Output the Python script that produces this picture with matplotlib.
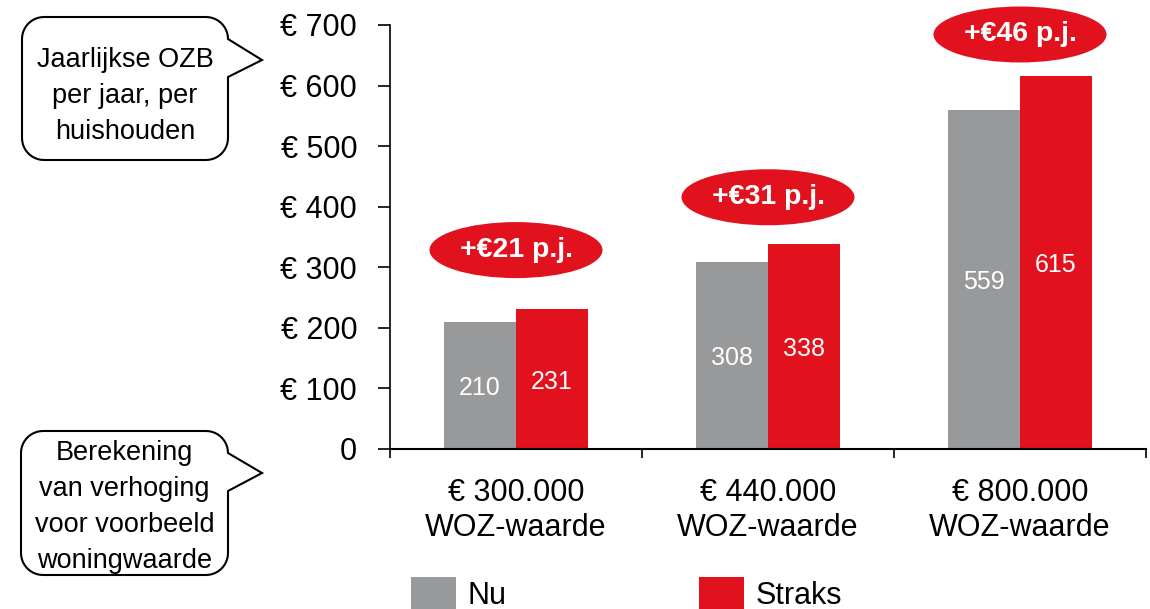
import matplotlib
matplotlib.use("Agg")
import matplotlib.pyplot as plt
import numpy as np
from matplotlib.patches import Ellipse, Rectangle, PathPatch
from matplotlib.path import Path
from matplotlib.transforms import ScaledTranslation, Affine2D

# ---------------- data ----------------
categories = ["€ 300.000\nWOZ-waarde", "€ 440.000\nWOZ-waarde", "€ 800.000\nWOZ-waarde"]
series_names = ["Nu", "Straks"]
nu = [210, 308, 559]
straks = [231, 338, 615]
increase_labels = ["+€21 p.j.", "+€31 p.j.", "+€46 p.j."]
yticks = [0, 100, 200, 300, 400, 500, 600, 700]
ytick_labels = ["0", "€ 100", "€ 200", "€ 300", "€ 400", "€ 500", "€ 600", "€ 700"]
callout_texts = ["Jaarlijkse OZB\nper jaar, per\nhuishouden",
                 "Berekening\nvan verhoging\nvoor voorbeeld\nwoningwaarde"]

# ---------------- style ----------------
GRAY = "#98999B"
RED = "#E1121D"
W, H = 1150, 609
plt.rcParams['font.family'] = ['Liberation Sans', 'DejaVu Sans']

fig = plt.figure(figsize=(W / 100, H / 100), dpi=100)
ax = fig.add_axes([390 / W, 1 - 449 / H, (1146 - 390) / W, (449 - 25) / H])
pix = Affine2D().scale(1, -1).translate(0, H)  # (x, y from top) in pixels

x = np.arange(len(categories))
bw = 0.2857
b1 = ax.bar(x - bw / 2, nu, bw, color=GRAY, label=series_names[0])
b2 = ax.bar(x + bw / 2, straks, bw, color=RED, label=series_names[1])
ax.set_xlim(-0.5, len(categories) - 0.5)
ax.set_ylim(0, 700)

for bars in (b1, b2):
    for r in bars:
        ax.text(r.get_x() + r.get_width() / 2, r.get_height() / 2, f"{int(r.get_height())}",
                ha="center", va="center_baseline", color="white", fontsize=18)

for s in ("top", "right"):
    ax.spines[s].set_visible(False)
ax.spines["left"].set_linewidth(1.2)
ax.spines["bottom"].set_linewidth(1.5)

ax.set_yticks(yticks, ytick_labels)
ax.tick_params(axis="y", length=8.6, width=1.2, pad=15, labelsize=22)

ax.set_xticks(np.arange(len(categories) + 1) - 0.5, [""] * (len(categories) + 1))
ax.tick_params(axis="x", which="major", length=6.5, width=1.2)
ax.set_xticks(x, categories, minor=True)
ax.tick_params(axis="x", which="minor", length=0, pad=21, labelsize=22)

# increase bubbles
bubble_offsets_px = [59, 47, 42]
for i in range(len(categories)):
    trans = fig.dpi_scale_trans + ScaledTranslation(x[i], straks[i], ax.transData)
    off = bubble_offsets_px[i] / 100
    e = Ellipse((0, off), 1.73, 0.56, transform=trans, facecolor=RED, edgecolor="none", clip_on=False)
    ax.add_artist(e)
    ax.text(0, off, increase_labels[i], transform=trans, ha="center", va="center",
            color="white", fontsize=20.5, fontweight="bold", clip_on=False)

# callouts
def callout_path(left, right, top, bottom, r, p1, tip, p2):
    pts = []
    def arc(cx, cy, a0, a1):
        for a in np.linspace(a0, a1, 12):
            pts.append((cx + r * np.cos(a), cy + r * np.sin(a)))
    pts.append((left + r, top))
    pts.append((right - r, top))
    arc(right - r, top + r, -np.pi / 2, 0)
    pts.append((right, p1))
    pts.append(tip)
    pts.append((right, p2))
    pts.append((right, bottom - r))
    arc(right - r, bottom - r, 0, np.pi / 2)
    pts.append((left + r, bottom))
    arc(left + r, bottom - r, np.pi / 2, np.pi)
    pts.append((left, top + r))
    arc(left + r, top + r, np.pi, 1.5 * np.pi)
    pts.append(pts[0])
    return Path(pts)

boxes = [dict(left=22, right=228, top=17, bottom=160, r=22, p1=39, tip=(262, 60), p2=77, ty=96),
         dict(left=21, right=228, top=431, bottom=575, r=22, p1=453, tip=(262, 473), p2=491, ty=507)]
for b, txt in zip(boxes, callout_texts):
    p = callout_path(b["left"], b["right"], b["top"], b["bottom"], b["r"], b["p1"], b["tip"], b["p2"])
    fig.add_artist(PathPatch(p, transform=pix, facecolor="white", edgecolor="black", lw=1.5))
    fig.text((b["left"] + b["right"]) / 2, b["ty"], txt, transform=pix, ha="center", va="center",
             multialignment="center", fontsize=19.5, linespacing=1.5)

# legend
legend_items = [(411, 468, GRAY, series_names[0]), (699, 756, RED, series_names[1])]
for sx, tx, col, name in legend_items:
    fig.add_artist(Rectangle((sx, 577), 45, 45, transform=pix, facecolor=col, edgecolor="none"))
    fig.text(tx, 604, name, transform=pix, ha="left", va="baseline", fontsize=22)

fig.savefig("out.png", dpi=100)
